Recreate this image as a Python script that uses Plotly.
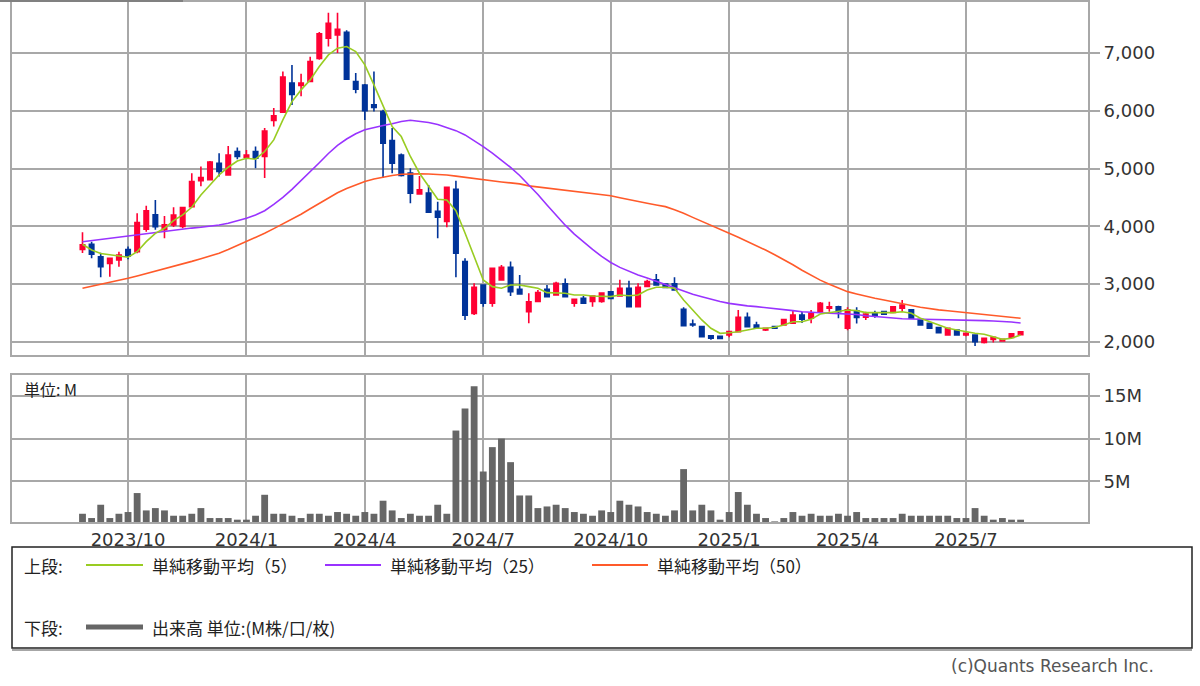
import pandas as pd
import plotly.graph_objects as go

# ---------------- data (weekly) ----------------
start_week = "2023-08-28"
n_weeks = 104
weeks = pd.date_range(start_week, periods=n_weeks, freq="7D")

opens = [3600, 3690, 3475, 3360, 3420, 3600, 3560, 3950, 4200, 3940,
         4025, 4000, 4340, 4790, 4805, 5090, 4890, 5295, 5195, 5295,
         5210, 5830, 5975, 6480, 6435, 6505, 6905, 7255, 7310, 7355,
         6505, 6445, 6100, 5985, 5485, 5235, 4920, 4560, 4575, 4260,
         4085, 4640, 3390, 2495, 2985, 2670, 3075, 3290, 2910, 2525,
         2700, 2910, 2815, 3005, 2670, 2755, 2700, 2700, 2870, 2795,
         2930, 2610, 2960, 3075, 3000, 3005, 2565, 2310, 2265, 2105,
         2100, 2120, 2180, 2425, 2295, 2210, 2265, 2295, 2325, 2465,
         2410, 2525, 2585, 2610, 2240, 2540, 2430, 2495, 2525, 2510,
         2585, 2555, 2390, 2325, 2250, 2120, 2205, 2120, 2120, 1990,
         2045, 2020, 2080, 2125]
highs = [3900, 3735, 3545, 3460, 3560, 3650, 4225, 4355, 4455, 4180,
         4330, 4330, 4920, 5035, 5130, 5265, 5390, 5365, 5320, 5380,
         5700, 6045, 6680, 6790, 6640, 6935, 7360, 7695, 7695, 7390,
         6650, 6460, 6680, 6015, 5700, 5260, 5005, 4870, 4715, 4425,
         4690, 4790, 3450, 3015, 2990, 3290, 3330, 3390, 3160, 2845,
         2900, 2985, 3040, 3100, 2745, 2795, 2800, 2860, 2880, 3075,
         3060, 3015, 3075, 3175, 3010, 3120, 2600, 2390, 2270, 2120,
         2105, 2185, 2555, 2510, 2350, 2240, 2280, 2395, 2555, 2525,
         2555, 2690, 2695, 2625, 2600, 2600, 2525, 2540, 2540, 2620,
         2725, 2560, 2400, 2330, 2260, 2240, 2215, 2160, 2130, 2070,
         2090, 2050, 2145, 2180]
lows = [3540, 3450, 3120, 3130, 3300, 3430, 3535, 3905, 3940, 3795,
        3990, 3965, 4340, 4695, 4800, 4860, 4880, 5160, 5170, 5005,
        4835, 5725, 5960, 6100, 6250, 6490, 6880, 7110, 7000, 6530,
        6300, 5840, 5985, 4835, 4920, 4860, 4400, 4560, 4240, 3795,
        3985, 3120, 2380, 2465, 2610, 2610, 3060, 2795, 2820, 2325,
        2690, 2780, 2800, 2780, 2610, 2660, 2610, 2680, 2750, 2790,
        2600, 2605, 2950, 2980, 2940, 2890, 2270, 2265, 2085, 2040,
        2055, 2080, 2170, 2260, 2235, 2190, 2235, 2290, 2320, 2330,
        2325, 2520, 2525, 2410, 2205, 2320, 2380, 2420, 2470, 2500,
        2520, 2400, 2290, 2235, 2155, 2115, 2115, 2100, 1930, 1975,
        1990, 2015, 2075, 2120]
closes = [3680, 3520, 3300, 3446, 3505, 3490, 4065, 4270, 3995, 4025,
          4195, 4325, 4775, 4845, 5110, 4950, 5235, 5210, 5235, 5180,
          5650, 5910, 6580, 6280, 6480, 6850, 7330, 7510, 7410, 6545,
          6370, 6000, 6055, 5440, 5090, 4880, 4575, 4630, 4245, 4160,
          4675, 3535, 2465, 2945, 2670, 3275, 3290, 2870, 2830, 2695,
          2855, 2785, 3015, 2785, 2740, 2670, 2795, 2845, 2755, 2930,
          2610, 2945, 3045, 2985, 2945, 2900, 2280, 2295, 2090, 2065,
          2060, 2180, 2425, 2265, 2240, 2235, 2240, 2390, 2465, 2395,
          2495, 2670, 2610, 2525, 2555, 2425, 2485, 2450, 2480, 2610,
          2640, 2410, 2295, 2240, 2160, 2235, 2120, 2150, 2005, 2065,
          2080, 2045, 2140, 2175]

ma5 = [3690, 3592, 3530, 3505, 3488, 3465, 3562, 3735, 3880, 3966,
       4099, 4197, 4330, 4543, 4716, 4889, 5022, 5130, 5178, 5161,
       5294, 5495, 5841, 6157, 6360, 6533, 6763, 6965, 7081, 7110,
       7023, 6792, 6446, 6071, 5725, 5553, 5208, 4919, 4688, 4469,
       4457, 4270, 3886, 3476, 3073, 2957, 2929, 2986, 2986, 2957,
       2929, 2853, 2843, 2843, 2813, 2813, 2796, 2784, 2784, 2813,
       2800, 2813, 2900, 2946, 2946, 2929, 2727, 2554, 2381, 2237,
       2150, 2161, 2178, 2208, 2237, 2237, 2254, 2294, 2351, 2351,
       2392, 2484, 2508, 2524, 2554, 2542, 2508, 2508, 2508, 2508,
       2524, 2496, 2410, 2351, 2294, 2237, 2208, 2178, 2150, 2133,
       2092, 2046, 2064, 2121]
ma25 = [3735, 3755, 3775, 3795, 3815, 3834, 3855, 3875, 3895, 3915,
        3938, 3955, 3970, 3985, 4000, 4024, 4055, 4095, 4140, 4195,
        4270, 4380, 4500, 4640, 4790, 4950, 5100, 5260, 5400, 5510,
        5600, 5670, 5710, 5745, 5775, 5812, 5835, 5820, 5795, 5760,
        5714, 5655, 5581, 5485, 5380, 5265, 5149, 5020, 4880, 4720,
        4550, 4370, 4190, 4020, 3865, 3725, 3600, 3480, 3375, 3290,
        3220, 3160, 3105, 3050, 2990, 2930, 2872, 2825, 2784, 2740,
        2700, 2668, 2640, 2625, 2611, 2597, 2583, 2562, 2542, 2524,
        2510, 2505, 2500, 2495, 2490, 2475, 2455, 2440, 2427, 2412,
        2402, 2398, 2396, 2394, 2392, 2390, 2388, 2385, 2378, 2370,
        2363, 2358, 2345, 2329]
ma50 = [2929, 2962, 2996, 3030, 3066, 3102, 3142, 3182, 3222, 3262,
        3303, 3348, 3394, 3440, 3488, 3535, 3600, 3668, 3735, 3808,
        3880, 3960, 4040, 4125, 4210, 4305, 4400, 4495, 4580, 4655,
        4720, 4775, 4820, 4852, 4879, 4900, 4907, 4907, 4905, 4898,
        4889, 4868, 4846, 4825, 4803, 4786, 4768, 4751, 4734, 4700,
        4680, 4665, 4650, 4630, 4610, 4590, 4570, 4550, 4530, 4495,
        4460, 4430, 4400, 4370, 4341, 4285, 4227, 4155, 4083, 4010,
        3950, 3880, 3811, 3740, 3665, 3590, 3510, 3425, 3335, 3240,
        3150, 3070, 3000, 2935, 2871, 2830, 2790, 2755, 2725, 2690,
        2660, 2630, 2600, 2575, 2555, 2540, 2525, 2510, 2490, 2475,
        2460, 2445, 2430, 2410]

volume_m = [1.24, 0.74, 2.29, 0.74, 1.24, 1.44, 3.65, 1.63, 1.90, 1.63,
            1.01, 1.01, 1.24, 1.90, 0.74, 0.74, 0.74, 0.55, 0.55, 1.01,
            3.45, 1.24, 1.24, 1.01, 0.74, 1.24, 1.24, 1.01, 1.44, 1.24,
            1.01, 1.44, 1.24, 2.76, 1.63, 0.74, 1.24, 1.01, 1.01, 2.29,
            1.24, 10.93, 13.5, 16.1, 6.16, 9.0, 10.0, 7.25, 3.37, 3.37,
            1.90, 2.09, 2.29, 1.90, 1.44, 1.24, 1.01, 1.63, 1.44, 2.76,
            2.29, 2.09, 1.44, 1.24, 1.01, 1.63, 6.44, 1.63, 2.29, 1.63,
            0.55, 1.44, 3.77, 2.29, 1.24, 0.74, 0.35, 0.74, 1.44, 1.01,
            1.24, 1.01, 1.01, 1.24, 1.01, 1.44, 0.74, 0.74, 0.74, 0.74,
            1.24, 1.01, 1.01, 1.01, 1.01, 1.01, 0.74, 0.74, 1.90, 1.01,
            0.55, 0.74, 0.55, 0.55]

tick_dates = ["2023-10-02", "2024-01-01", "2024-04-01", "2024-07-01",
              "2024-10-07", "2025-01-06", "2025-04-07", "2025-07-07"]
tick_labels = ["2023/10", "2024/1", "2024/4", "2024/7",
               "2024/10", "2025/1", "2025/4", "2025/7"]
price_ticks = [2000, 3000, 4000, 5000, 6000, 7000]
vol_ticks = [5, 10, 15]
vol_tick_labels = ["5M", "10M", "15M"]

# ---------------- styling ----------------
W, H = 1200, 686
RED = "#ff0033"
BLUE = "#003399"
GRID = "#a8a8a8"
TXT = "#333333"
JP = "Noto Sans CJK JP"
NUM = "DejaVu Sans"

def px(x):
    return x / W

def py(y):
    return 1 - y / H

t0 = pd.Timestamp(start_week)
x_range = [(t0 + pd.Timedelta(days=-7.74 * 7)).strftime("%Y-%m-%d %H:%M:%S"),
           (t0 + pd.Timedelta(days=110.4 * 7)).strftime("%Y-%m-%d %H:%M:%S")]

fig = go.Figure()

fig.add_trace(go.Candlestick(
    x=weeks, open=opens, high=highs, low=lows, close=closes,
    increasing=dict(line=dict(color=RED, width=1.6), fillcolor=RED),
    decreasing=dict(line=dict(color=BLUE, width=1.6), fillcolor=BLUE),
    whiskerwidth=0, hoverinfo="skip", showlegend=False,
    xaxis="x", yaxis="y"))

for vals, col in [(ma50, "#ff5a2a"), (ma25, "#9933ff"), (ma5, "#99cc22")]:
    fig.add_trace(go.Scatter(x=weeks, y=vals, mode="lines",
                             line=dict(color=col, width=1.6),
                             hoverinfo="skip", showlegend=False,
                             xaxis="x", yaxis="y"))

fig.add_trace(go.Bar(x=weeks, y=volume_m, marker=dict(color="#666666", line=dict(width=0)),
                     hoverinfo="skip", showlegend=False, xaxis="x2", yaxis="y2"))

axis_common = dict(showgrid=True, gridcolor=GRID, gridwidth=2,
                   showline=True, mirror=True, linecolor=GRID, linewidth=2,
                   zeroline=False, fixedrange=True)

fig.update_layout(
    width=W, height=H,
    margin=dict(l=0, r=0, t=0, b=0),
    paper_bgcolor="white", plot_bgcolor="white",
    bargap=0.25,
    xaxis=dict(domain=[px(12), px(1088)], anchor="y", type="date", range=x_range,
               tickmode="array", tickvals=tick_dates, ticktext=tick_labels,
               showticklabels=False, rangeslider=dict(visible=False), **axis_common),
    yaxis=dict(domain=[py(355), py(2)], anchor="x", side="right", range=[1775, 7880],
               tickmode="array", tickvals=price_ticks, tickformat=",d",
               ticks="outside", ticklen=10, tickwidth=2, tickcolor=GRID,
               tickfont=dict(family=NUM, size=18, color=TXT), **axis_common),
    xaxis2=dict(domain=[px(12), px(1088)], anchor="y2", type="date", range=x_range,
                matches="x", tickmode="array", tickvals=tick_dates, ticktext=tick_labels,
                showticklabels=True, tickfont=dict(family=NUM, size=18, color=TXT),
                **axis_common),
    yaxis2=dict(domain=[py(522), py(375)], anchor="x2", side="right", range=[0.28, 17.4],
                tickmode="array", tickvals=vol_ticks, ticktext=vol_tick_labels,
                ticks="outside", ticklen=10, tickwidth=2, tickcolor=GRID,
                tickfont=dict(family=NUM, size=18, color=TXT), **axis_common),
)

shapes = [
    # small tab bar at top-left
    dict(type="rect", xref="paper", yref="paper", x0=0, x1=px(183), y0=py(2), y1=py(0),
         fillcolor="#808080", line=dict(width=0)),
    # legend box
    dict(type="rect", xref="paper", yref="paper", x0=px(12), x1=px(1192), y0=py(648), y1=py(547),
         line=dict(color="#222222", width=1.5), fillcolor="rgba(0,0,0,0)"),
    dict(type="line", xref="paper", yref="paper", x0=px(12), x1=px(1192), y0=py(650), y1=py(650),
         line=dict(color="#888888", width=1.5)),
    # legend lines
    dict(type="line", xref="paper", yref="paper", x0=px(86), x1=px(143), y0=py(565), y1=py(565),
         line=dict(color="#99cc22", width=2)),
    dict(type="line", xref="paper", yref="paper", x0=px(325), x1=px(381), y0=py(565), y1=py(565),
         line=dict(color="#9933ff", width=2)),
    dict(type="line", xref="paper", yref="paper", x0=px(592), x1=px(648), y0=py(565), y1=py(565),
         line=dict(color="#ff5a2a", width=2)),
    dict(type="line", xref="paper", yref="paper", x0=px(86), x1=px(143), y0=py(627), y1=py(627),
         line=dict(color="#666666", width=5)),
]
fig.update_layout(shapes=shapes)

def note(text, x, y, size=17, anchor="left", color="#222222", family=JP):
    fig.add_annotation(text=text, xref="paper", yref="paper", x=px(x), y=py(y),
                       xanchor=anchor, yanchor="middle", showarrow=False,
                       font=dict(family=family, size=size, color=color))

note("単位: M", 22, 389, size=16)
note("上段:", 22, 565)
note("単純移動平均（5）", 150, 565)
note("単純移動平均（25）", 388, 565)
note("単純移動平均（50）", 655, 565)
note("下段:", 22, 627)
note("出来高 単位:(M株/口/枚)", 150, 627)
note("(c)Quants Research Inc.", 1156, 666, size=17, anchor="right", color="#555555", family=NUM)

fig.write_html("out.html", config={"displayModeBar": False, "staticPlot": True},
               post_script="document.body.style.margin='0px';document.body.style.overflow='hidden';")
